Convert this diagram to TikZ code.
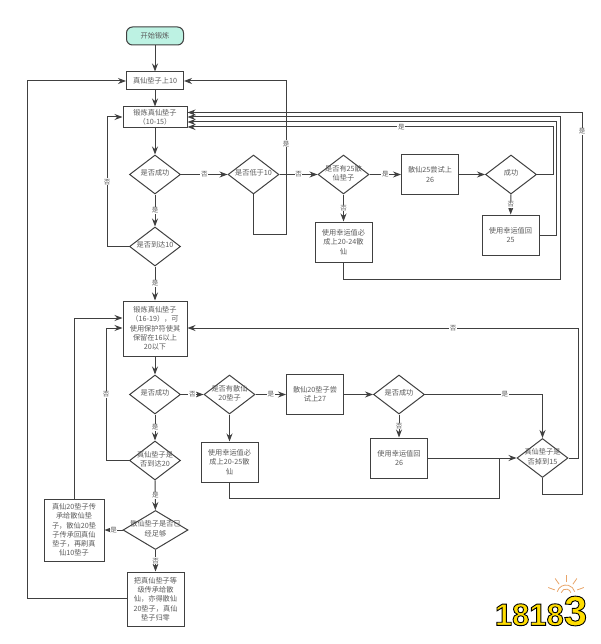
\documentclass[tikz,border=0pt]{standalone}
\usepackage{fontspec}
\setmainfont{Noto Sans CJK SC}
\newfontfamily\logofont{Liberation Sans Bold}
\usetikzlibrary{arrows.meta,shapes.geometric}
\definecolor{linegray}{HTML}{404040}
\definecolor{textgray}{HTML}{5A5A5A}
\definecolor{startfill}{HTML}{BDF2E3}
\definecolor{logoyellow}{HTML}{FFDD00}
\definecolor{logosun}{HTML}{E8A468}
% zero sized text, it may stick out of the diamond
\newcommand\dtext[1]{\raisebox{-2.5pt}{\smash{\makebox[0pt]{\begin{tabular}{@{}c@{}}#1\end{tabular}}}}}
\begin{document}
\begin{tikzpicture}[
  x=1pt,
  y=-1pt,
  every node/.style={text=textgray,font=\fontsize{7.2}{9.3}\selectfont},
  start/.style={
    draw=black!75,
    line width=1pt,
    fill=startfill,
    rectangle,
    rounded corners=6pt,
    minimum width=57pt,
    minimum height=18pt
  },
  stepbox/.style={
    draw=linegray,
    line width=1pt,
    rectangle,
    inner sep=0pt,
    align=center,
    minimum width=57pt,
    minimum height=40pt
  },
  decide/.style={
    draw=linegray,
    line width=1pt,
    diamond,
    inner sep=0pt,
    minimum width=51pt,
    minimum height=39pt
  },
  yes/.style={
    fill=white,
    inner sep=0.6pt,
    font=\fontsize{6.5}{7}\selectfont
  },
  flow/.style={
    draw=linegray,
    line width=1pt,
    -{Stealth[length=8pt,width=6pt]}
  },
  plain/.style={
    draw=linegray,
    line width=1pt
  }
]
  \useasboundingbox (0,0) rectangle (600,644);

  % upper part
  \node[start] (Start) at (155,36) {开始锻炼};
  \node[stepbox,minimum height=18pt] (True10) at (155,81) {真仙垫子上10};
  \node[stepbox,minimum width=64pt,minimum height=21pt] (Forge1) at (155,117.5) {锻炼真仙垫子\\（10-15）};
  \node[decide] (Ok1) at (155,174.5) {\dtext{是否成功}};
  \node[decide] (Low10) at (253.5,174.5) {\dtext{是否低于10}};
  \node[decide] (Has25) at (343.5,174.5) {\dtext{是否有25散\\仙垫子}};
  \node[stepbox] (Try26) at (430,174.5) {散仙25尝试上\\26};
  \node[decide] (Ok2) at (511,174.5) {\dtext{成功}};
  \node[stepbox] (Back25) at (510.5,235) {使用幸运值回\\25};
  \node[stepbox] (Sure24) at (343.5,242) {使用幸运值必\\成上20-24散\\仙};
  \node[decide] (Reach10) at (155,246.5) {\dtext{是否到达10}};

  % lower part
  \node[stepbox,minimum width=64pt,minimum height=55pt] (Forge2) at (155,328.5) {锻炼真仙垫子\\（16-19），可\\使用保护符使其\\保留在16以上\\20以下};
  \node[decide] (Ok3) at (155,394.5) {\dtext{是否成功}};
  \node[decide] (Has20) at (229.5,394.5) {\dtext{是否有散仙\\20垫子}};
  \node[stepbox] (Try27) at (315,394.5) {散仙20垫子尝\\试上27};
  \node[decide] (Ok4) at (399,394.5) {\dtext{是否成功}};
  \node[stepbox] (Back26) at (399,458) {使用幸运值回\\26};
  \node[decide] (Drop15) at (542.5,458) {\dtext{真仙垫子是\\否掉到15}};
  \node[stepbox] (Sure25) at (229.5,462) {使用幸运值必\\成上20-25散\\仙};
  \node[decide] (Reach20) at (155,460.5) {\dtext{真仙垫子是\\否到达20}};
  \node[decide,minimum width=65pt] (Enough) at (155.5,530) {\dtext{散仙垫子是否已\\经足够}};
  \node[stepbox,minimum width=60pt,minimum height=62pt] (Pass) at (74,530) {真仙20垫子传\\承给散仙垫\\子，散仙20垫\\子传承回真仙\\垫子，再刷真\\仙10垫子};
  \node[stepbox,minimum height=54pt] (Reset) at (155.5,599) {把真仙垫子等\\级传承给散\\仙，亦得散仙\\20垫子，真仙\\垫子归零};

  % corners of the long lines
  \coordinate (A1) at (107,117);
  \coordinate (A3) at (286,234);
  \coordinate (A4) at (553,127);
  \coordinate (A5) at (556,122);
  \coordinate (A6) at (560,117);
  \coordinate (A7) at (343,279);
  \coordinate (A8) at (582,112.5);
  \coordinate (A9) at (582,494);
  \coordinate (B1) at (578,328);
  \coordinate (B2) at (106,328);
  \coordinate (B3) at (74,318);
  \coordinate (B5) at (499,498);
  \coordinate (B6) at (27,598);

  \draw[flow] (Start) -- (True10);
  \draw[flow] (True10) -- (Forge1);
  \draw[flow] (Forge1) -- (Ok1);
  \draw[flow] (Ok1) -- node[yes]{否} (Low10);
  \draw[flow] (Low10) -- node[yes]{否} (Has25);
  \draw[flow] (Has25) -- node[yes]{是} (Try26);
  \draw[flow] (Try26) -- (Ok2);
  \draw[flow] (Ok1) -- node[yes]{是} (Reach10);
  \draw[flow] (Has25) -- node[yes]{否} (Sure24);
  \draw[flow] (Ok2) -- node[yes]{否} (Back25);
  \draw[flow] (Reach10) -- node[yes]{是} (Forge2);
  \draw[flow] (Reach10.west) -| node[yes,pos=.75]{否} (A1) -- (Forge1.west |- A1);
  \draw[flow] (Low10.south) |- (A3) -- node[yes,pos=.59]{是} (A3 |- True10.east) -- (True10.east);
  \draw[flow] (Ok2.east) -| (A4) -- node[yes,pos=.415]{是} (Forge1.east |- A4);
  \draw[flow] (Back25.east) -| (A5) -- (Forge1.east |- A5);
  \draw[flow] (Sure24.south) |- (A6 |- A7) -- (A6) -- (Forge1.east |- A6);
  \draw[flow] (Drop15.south) |- (A9) -- node[yes,pos=.95]{是} (A8) -- (Forge1.east |- A8);

  \draw[flow] (Forge2) -- (Ok3);
  \draw[flow] (Ok3) -- node[yes]{否} (Has20);
  \draw[flow] (Has20) -- node[yes]{是} (Try27);
  \draw[flow] (Has20) -- (Sure25);
  \draw[flow] (Try27) -- (Ok4);
  \draw[flow] (Ok3) -- node[yes]{是} (Reach20);
  \draw[flow] (Ok4) -- node[yes]{否} (Back26);
  \draw[flow] (Ok4.east) -| node[yes,pos=.34]{是} (Drop15.north);
  \draw[flow] (Back26) -- (Drop15);
  \draw[plain] (Sure25.south) |- (B5) -- (B5 |- Drop15.west);
  \draw[flow] (Drop15.east) -| (B1) -- node[yes,pos=.32]{否} (Forge2.east |- B1);
  \draw[flow] (Reach20.west) -| node[yes,pos=.75]{否} (B2) -- (Forge2.west |- B2);
  \draw[flow] (Reach20) -- node[yes]{是} (Enough);
  \draw[flow] (Pass.north) -- (B3) -- (Forge2.west |- B3);
  \draw[flow] (Enough) -- node[yes]{是} (Pass);
  \draw[flow] (Enough) -- node[yes]{否} (Reset);
  \draw[flow] (Reset.west |- B6) -- (B6) |- (True10.west);

  % logo
  \foreach \r in {5,9}{
    \draw[logosun,thick] (566,594) ++(-165:\r) arc[start angle=-165,end angle=-15,radius=\r];
  }
  \foreach \a in {-160,-125,-90,-55,-20}{
    \draw[logosun,thick] (566,594) ++(\a:12) -- ++(\a:7);
  }
  \node[inner sep=0pt,anchor=center] (Logo) at (541,611) {%
    \logofont\color{logoyellow}\special{pdf:code 2 Tr 0.9 w 0 0 0 RG}%
    \fontsize{31}{31}\selectfont 1818\fontsize{42}{42}\selectfont 3%
    \special{pdf:code 0 Tr}};
\end{tikzpicture}
\end{document}
